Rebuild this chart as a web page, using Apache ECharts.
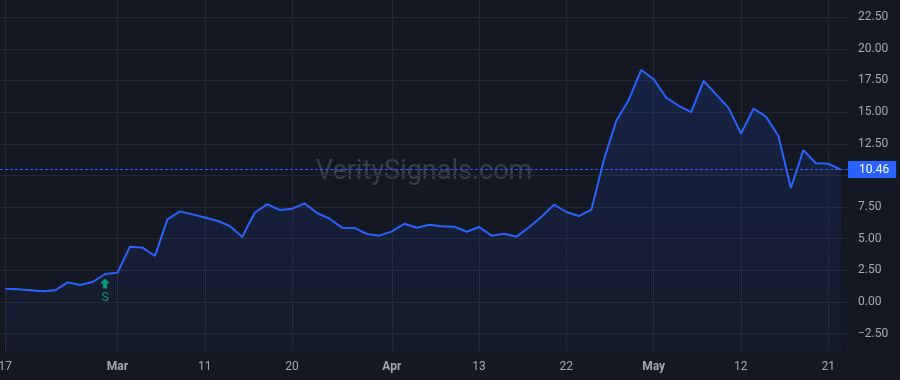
<!DOCTYPE html>
<html>
<head>
<meta charset="utf-8">
<script src="https://cdn.jsdelivr.net/npm/echarts@6/dist/echarts.min.js"></script>
<style>
html,body{margin:0;padding:0;background:#141823;}
#c{width:900px;height:380px;}
</style>
</head>
<body>
<div id="c"></div>
<script>
// ---- data ----
const dates = [
  '2026-02-17','2026-02-18','2026-02-19','2026-02-20','2026-02-23','2026-02-24','2026-02-25','2026-02-26','2026-02-27',
  '2026-03-02','2026-03-03','2026-03-04','2026-03-05','2026-03-06',
  '2026-03-09','2026-03-10','2026-03-11','2026-03-12','2026-03-13',
  '2026-03-16','2026-03-17','2026-03-18','2026-03-19','2026-03-20',
  '2026-03-23','2026-03-24','2026-03-25','2026-03-26','2026-03-27',
  '2026-03-30','2026-03-31','2026-04-01','2026-04-02',
  '2026-04-06','2026-04-07','2026-04-08','2026-04-09','2026-04-10',
  '2026-04-13','2026-04-14','2026-04-15','2026-04-16','2026-04-17',
  '2026-04-20','2026-04-21','2026-04-22','2026-04-23','2026-04-24',
  '2026-04-27','2026-04-28','2026-04-29','2026-04-30','2026-05-01',
  '2026-05-04','2026-05-05','2026-05-06','2026-05-07','2026-05-08',
  '2026-05-11','2026-05-12','2026-05-13','2026-05-14','2026-05-15',
  '2026-05-18','2026-05-19','2026-05-20','2026-05-21','2026-05-22'
];
const values = [
  1.05, 1.00, 0.93, 0.85, 0.92, 1.55, 1.34, 1.58, 2.21,
  2.32, 4.37, 4.29, 3.63, 6.53,
  7.16, 6.92, 6.67, 6.42, 6.00,
  5.14, 7.05, 7.73, 7.27, 7.37,
  7.79, 7.03, 6.58, 5.87, 5.85,
  5.37, 5.24, 5.58, 6.18,
  5.86, 6.10, 5.98, 5.95, 5.55,
  5.92, 5.24, 5.39, 5.16, 5.90,
  6.74, 7.69, 7.11, 6.79, 7.29,
  11.22, 14.32, 15.98, 18.33, 17.59,
  16.14, 15.50, 15.00, 17.46, 16.40,
  15.33, 13.30, 15.27, 14.64, 13.11,
  9.00, 12.00, 10.96, 10.92, 10.46
];
const tickDates  = ['2026-02-17','2026-03-02','2026-03-11','2026-03-20','2026-04-01','2026-04-13','2026-04-22','2026-05-01','2026-05-12','2026-05-21'];
const tickLabels = ['17','Mar','11','20','Apr','13','22','May','12','21'];
const monthLabels = ['Mar','Apr','May'];
const yMin = -5, yMax = 25, yStep = 2.5;
const lastPrice = values[values.length - 1];
const signalDate = '2026-02-27';
const signalText = 'S';
const watermarkText = 'VeritySignals.com';

// ---- chart ----
const TEXT = '#a6a9b1';
const GRIDC = '#232733';
const BLUE = '#2962ff';
const chart = echarts.init(document.getElementById('c'), null, {renderer: 'canvas'});
const tickIdx = new Set(tickDates.map(d => dates.indexOf(d)));
const sigIdx = dates.indexOf(signalDate);
const fmtY = v => v.toFixed(2).replace('-', '\u2212');

chart.setOption({
  animation: false,
  backgroundColor: '#141823',
  textStyle: {fontFamily: 'Roboto, sans-serif'},
  graphic: [{
    type: 'text', z: 0, silent: true, x: 424, y: 172,
    style: {text: watermarkText, fontSize: 27, fontFamily: 'Roboto, sans-serif',
      align: 'center', verticalAlign: 'middle',
      fill: 'rgba(255,255,255,0.16)'}
  }],
  grid: [
    {left: 0, right: 52, top: -14.5, bottom: 14.7, outerBoundsMode: 'none', containLabel: false},
    {left: 5.3, right: 59.4, top: 0, bottom: 28.3, outerBoundsMode: 'none', containLabel: false}
  ],
  xAxis: [
    {type: 'value', gridIndex: 0, min: -0.425, max: 67.58, show: false},
    {type: 'category', gridIndex: 1, data: dates, boundaryGap: false,
      axisLine: {show: false}, axisTick: {show: false},
      axisLabel: {
        interval: (i) => tickIdx.has(i),
        margin: 9, color: TEXT, fontSize: 12,
        formatter: (v) => {
          const k = tickDates.indexOf(v);
          const t = tickLabels[k];
          return monthLabels.includes(t) ? '{b|' + t + '}' : t;
        },
        rich: {b: {fontWeight: 'bold', color: TEXT, fontSize: 12}}
      },
      splitLine: {show: true, interval: (i) => tickIdx.has(i), lineStyle: {color: GRIDC, width: 1}}
    }
  ],
  yAxis: [
    {type: 'value', gridIndex: 0, position: 'right', min: yMin, max: yMax, interval: yStep,
      axisLine: {show: false}, axisTick: {show: false},
      axisLabel: {color: TEXT, fontSize: 12, margin: 10, formatter: fmtY,
        showMinLabel: false, showMaxLabel: false},
      splitLine: {show: true, showMinLine: false, showMaxLine: false, lineStyle: {color: GRIDC, width: 1}}
    },
    {type: 'value', gridIndex: 1, show: false, min: 0, max: 1}
  ],
  series: [{
    type: 'line', xAxisIndex: 0, yAxisIndex: 0,
    data: values.map((v, i) => [i, v]),
    symbol: 'none', clip: true,
    lineStyle: {color: BLUE, width: 2},
    areaStyle: {
      origin: -3.93,
      color: new echarts.graphic.LinearGradient(0, 0, 0, 1, [
        {offset: 0, color: 'rgba(41,98,255,0.22)'},
        {offset: 1, color: 'rgba(41,98,255,0.06)'}
      ])
    },
    markLine: {
      silent: true, symbol: 'none',
      lineStyle: {color: BLUE, type: [3, 2], width: 1},
      label: {show: true, position: 'end', distance: 0,
        formatter: lastPrice.toFixed(2),
        color: '#ffffff', fontSize: 12, backgroundColor: BLUE,
        padding: [3, 7, 2, 11]},
      data: [{yAxis: lastPrice}]
    },
    markPoint: {
      silent: true,
      symbol: 'path://M5,0 L10,5 L7,5 L7,10 L3,10 L3,5 L0,5 Z',
      symbolSize: [10, 10],
      symbolOffset: [0, 9.5],
      itemStyle: {color: '#089981'},
      label: {show: true, position: 'bottom', distance: 3, formatter: signalText,
        color: '#089981', fontSize: 13},
      data: [{coord: [sigIdx, values[sigIdx]]}]
    }
  }]
});
</script>
</body>
</html>
